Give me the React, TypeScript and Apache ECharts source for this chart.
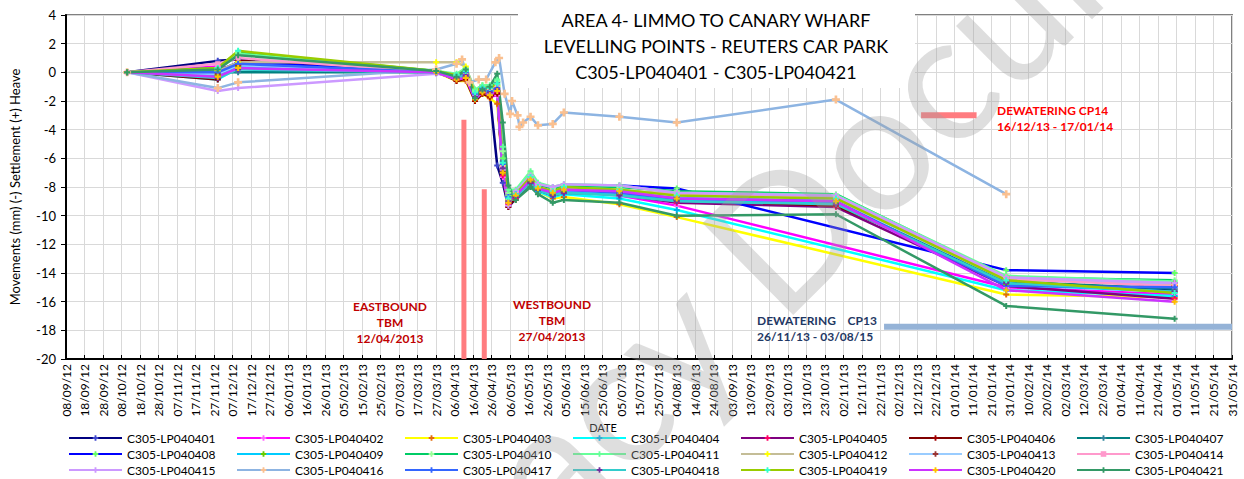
import React, { useEffect, useRef } from "react";
import * as echarts from "echarts";

// ---------- DATA ----------
const BASE_DATE = "2012-09-08";
const AXIS_END_DATE = "2014-05-31";
const TICK_DAYS = 10;

const yMin = -20;
const yMax = 4;
const yStep = 2;

const seriesNames = [
  "C305-LP040401", "C305-LP040402", "C305-LP040403", "C305-LP040404", "C305-LP040405", "C305-LP040406", "C305-LP040407",
  "C305-LP040408", "C305-LP040409", "C305-LP040410", "C305-LP040411", "C305-LP040412", "C305-LP040413", "C305-LP040414",
  "C305-LP040415", "C305-LP040416", "C305-LP040417", "C305-LP040418", "C305-LP040419", "C305-LP040420", "C305-LP040421",
];

const lineColors = [
  "#000080", "#FF00FF", "#FFFF00", "#00FFFF", "#800080", "#800000", "#008080",
  "#0000FF", "#00CCFF", "#00CC66", "#66FF99", "#C4BD97", "#99CCFF", "#FF99CC",
  "#CC99FF", "#8DB4E2", "#3366FF", "#33CCCC", "#99CC00", "#CC33FF", "#339966",
];

const markerColors = [
  "#3F48CC", "#FF66FF", "#E36C09", "#00B0F0", "#FF0066", "#A00000", "#31859C",
  "#66FF66", "#66CC00", "#99FF99", "#66FF99", "#FFFF00", "#993333", "#FF99CC",
  "#CC99FF", "#FAC090", "#3366FF", "#7030A0", "#33FFCC", "#FFC000", "#339966",
];

// survey dates shared by all points except LP040416
const dates = [
  "2012-10-11", "2012-11-29", "2012-12-10", "2013-03-27", "2013-04-07", "2013-04-12", "2013-04-17", "2013-04-21",
  "2013-04-25", "2013-04-29", "2013-05-02", "2013-05-05", "2013-05-09", "2013-05-17", "2013-05-21", "2013-05-29",
  "2013-06-04", "2013-07-04", "2013-08-04", "2013-10-29", "2014-01-29", "2014-04-30",
];

const lp401 = [0, 0.8, 0.9, 0.0, -0.4, -0.2, -1.6, -1.2, -1.5, -6.5, -7.7, -9.4, -8.8, -7.6, -8.1, -8.4, -8.2, -8.3, -8.9, -9.2, -14.6, -15.2];
const lp402 = [0, 0.4, 0.3, 0.0, -0.5, -0.5, -1.9, -1.4, -1.7, -1.6, -7.3, -9.2, -8.7, -7.6, -8.2, -8.5, -8.3, -8.6, -9.3, null, -15.0, -15.5];
const lp403 = [0, -0.2, 0.5, 0.0, -0.6, -0.6, -2.0, -1.5, -1.8, -2.2, -6.8, -8.9, -8.9, -7.8, -8.3, -8.8, -8.7, -9.2, -10.1, null, -15.5, -15.7];
const lp404 = [0, -0.5, 0.3, 0.0, -0.4, -0.3, -1.7, -1.3, -1.5, -1.3, -7.0, -9.0, -8.8, -7.8, -8.3, -8.7, -8.5, -8.8, -9.6, null, -15.2, -15.6];
const lp405 = [0, -0.3, 0.4, 0.0, -0.5, -0.4, -1.9, -1.4, -1.6, -1.4, -7.2, -9.2, -8.8, -7.7, -8.2, -8.6, -8.4, -8.5, -9.1, -9.4, -14.9, -15.8];
const lp406 = [0, -0.5, 0.8, 0.1, -0.6, -0.5, -2.0, -1.5, -1.7, -1.5, -7.0, -9.4, -8.7, -7.6, -8.1, -8.5, -8.3, -8.4, -8.9, -9.3, -14.3, -14.9];
const lp407 = [0, 0.0, 0.0, 0.0, -0.2, 0.1, -1.3, -1.0, -1.1, -0.7, -6.2, -8.8, -8.7, -7.6, -8.2, -8.5, -8.3, -8.5, -8.9, -9.1, -14.6, -15.1];
const lp408 = [0, 0.1, 0.7, 0.0, -0.3, 0.0, -1.4, -1.1, -1.2, -1.0, -6.0, -8.6, -8.4, -7.3, -7.9, -8.1, -7.9, -7.9, -8.1, null, -13.8, -14.0];
const lp409 = [0, -0.2, 0.4, 0.0, -0.3, 0.0, -1.5, -1.1, -1.2, -0.9, -6.5, -8.9, -8.6, -7.6, -8.2, -8.5, -8.3, -8.5, -8.9, -9.1, -14.8, -15.3];
const lp410 = [0, 0.3, 1.4, 0.1, -0.2, 0.2, -1.3, -0.9, -1.0, -0.6, -5.5, -8.4, -8.3, -7.0, -7.8, -8.1, -7.9, -8.0, -8.3, -8.5, -14.3, -14.5];
const lp411 = [0, 0.2, 1.3, 0.1, -0.1, 0.3, -1.2, -0.9, -0.9, -0.5, -5.2, -8.2, -8.2, -6.9, -7.7, -8.0, -7.8, -7.9, -8.4, -8.55, -14.2, -14.6];
const lp412 = [0, 0.1, 0.7, 0.7, 0.7, 0.4, -1.4, -1.0, -1.2, -1.0, -6.5, -8.9, -8.4, -7.4, -8.0, -8.3, -8.1, -8.2, -8.5, -8.7, -14.3, -14.8];
const lp413 = [0, -0.1, 0.5, 0.0, -0.5, -0.3, -1.8, -1.3, -1.5, -1.3, -6.9, -9.1, -8.6, -7.5, -8.1, -8.4, -8.2, -8.4, -8.7, -8.9, -14.5, -14.7];
const lp414 = [0, 0.6, 1.0, 0.0, -0.4, -0.1, -1.7, -1.2, -1.3, -0.9, -6.6, -9.0, -8.5, -7.4, -8.0, -8.3, -8.1, -8.3, -8.5, -8.8, -14.4, -14.9];
const lp415 = [0, -1.3, -1.1, -0.1, -0.3, -0.2, -1.6, -1.2, -1.5, -1.2, -6.8, -9.3, -8.3, -7.2, -7.8, -8.0, -7.8, -7.9, -8.4, -8.6, -14.3, -14.7];
const lp417 = [0, 0.0, 0.6, 0.0, -0.3, 0.0, -1.5, -1.1, -1.3, -1.1, -6.4, -8.7, -8.5, -7.5, -8.1, -8.4, -8.2, -8.4, -8.8, -9.0, -14.9, -15.0];
const lp418 = [0, -0.4, 0.2, 0.0, -0.4, -0.2, -1.7, -1.3, -1.4, -1.2, -6.7, -9.0, -8.7, -7.7, -8.2, -8.6, -8.4, -8.6, -9.0, -9.2, -14.7, -15.3];
const lp419 = [0, 0.3, 1.5, 0.1, -0.2, 0.1, -1.4, -1.0, -1.1, -0.8, -6.3, -8.8, -8.5, -7.3, -8.0, -8.3, -8.0, -8.2, -8.6, -8.8, -14.5, -15.4];
const lp420 = [0, -0.3, 0.3, 0.0, -0.5, -0.4, -1.9, -1.4, -1.6, -1.3, -7.0, -9.1, -8.6, -7.5, -8.1, -8.4, -8.2, -8.3, -8.8, -9.0, -15.2, -16.0];
const lp421 = [0, 0.2, 1.2, 0.1, -0.3, 0.2, -1.8, -1.2, -1.0, -0.1, -3.5, -7.9, -8.9, -8.0, -8.5, -9.1, -8.9, -9.1, -10.0, -9.9, -16.3, -17.2];

// LP040416 has its own survey dates
const dates416 = [
  "2012-10-11", "2012-11-29", "2012-12-10", "2013-03-27", "2013-04-07", "2013-04-10", "2013-04-14", "2013-04-19",
  "2013-04-23", "2013-04-28", "2013-04-30", "2013-05-03", "2013-05-06", "2013-05-07", "2013-05-10", "2013-05-11",
  "2013-05-13", "2013-05-17", "2013-05-21", "2013-05-29", "2013-06-04", "2013-07-04", "2013-08-04", "2013-10-29", "2014-01-29",
];
const lp416 = [0, -1.1, -0.7, 0.2, 0.6, 0.9, -0.7, -0.5, -0.5, 0.7, 1.0, -1.5, -2.9, -2.0, -3.0, -3.8, -3.5, -3.1, -3.7, -3.6, -2.8, -3.1, -3.5, -1.9, -8.5];

// event markers
const eastboundBarDate = "2013-04-11";
const eastboundBarRange = [-3.3, -20];
const westboundBarDate = "2013-04-22";
const westboundBarRange = [-8.15, -20];
const cp14Dates = ["2013-12-14", "2014-01-13"];
const cp14Level = -3.0;
const cp13Dates = ["2013-11-24", "2014-05-31"];
const cp13Level = -17.75;

const titleLines = ["AREA 4- LIMMO TO CANARY WHARF", "LEVELLING POINTS - REUTERS CAR PARK", "C305-LP040401 - C305-LP040421"];

// ---------- HELPERS ----------
const DAY = 86400000;
const baseMs = Date.parse(BASE_DATE + "T00:00:00Z");
const toDay = (d: string) => Math.round((Date.parse(d + "T00:00:00Z") - baseMs) / DAY);
const pad = (n: number) => (n < 10 ? "0" + n : "" + n);
const fmtDay = (v: number) => {
  const dt = new Date(baseMs + Math.round(v) * DAY);
  return pad(dt.getUTCDate()) + "/" + pad(dt.getUTCMonth() + 1) + "/" + pad(dt.getUTCFullYear() % 100);
};

const FONT = "Lato, 'Open Sans', 'DejaVu Sans', sans-serif";
const PLUS = "path://M2,0H4V2H6V4H4V6H2V4H0V2H2Z";

const allValues = [lp401, lp402, lp403, lp404, lp405, lp406, lp407, lp408, lp409, lp410, lp411, lp412, lp413, lp414, lp415, lp416, lp417, lp418, lp419, lp420, lp421];

export default function App() {
  const ref = useRef<HTMLDivElement>(null);
  useEffect(() => {
    if (!ref.current) return;
    const chart = echarts.init(ref.current, null, { renderer: "svg" });

    const dataSeries: any[] = seriesNames.map((name, i) => {
      const own = name === "C305-LP040416";
      const ds = own ? dates416 : dates;
      const vs = allValues[i];
      let symbol = PLUS;
      let size = 6;
      if (name === "C305-LP040414") { symbol = "rect"; size = 5; }
      if (own) { size = 8; }
      return {
        name,
        type: "line",
        data: ds.map((d, k) => [toDay(d), vs[k]]),
        connectNulls: true,
        symbol,
        symbolSize: size,
        showSymbol: true,
        lineStyle: { width: 2.5, color: lineColors[i] },
        itemStyle: { color: markerColors[i] },
        emphasis: { disabled: true },
        z: 3,
      };
    });

    const bar = (name: string, pts: number[][], color: string, width: number) => ({
      name,
      type: "line",
      data: pts,
      symbol: "none",
      lineStyle: { width, color, cap: "butt" },
      emphasis: { disabled: true },
      silent: true,
      z: 2,
    });

    const markerSeries = [
      bar("EB", [[toDay(eastboundBarDate), eastboundBarRange[0]], [toDay(eastboundBarDate), eastboundBarRange[1]]], "#FF7C80", 5),
      bar("WB", [[toDay(westboundBarDate), westboundBarRange[0]], [toDay(westboundBarDate), westboundBarRange[1]]], "#FF7C80", 5),
      bar("CP14", [[toDay(cp14Dates[0]), cp14Level], [toDay(cp14Dates[1]), cp14Level]], "#FF7C80", 6),
      bar("CP13", [[toDay(cp13Dates[0]), cp13Level], [toDay(cp13Dates[1]), cp13Level]], "#95B3D7", 6),
    ];

    const rowTops = [432, 448, 464];
    const legends = seriesNames.map((name, i) => ({
      data: [name],
      top: rowTops[Math.floor(i / 7)],
      left: 68 + (i % 7) * 168,
      padding: 0,
      orient: "horizontal",
      itemWidth: 53,
      itemHeight: 7,
      selectedMode: false,
      textStyle: { fontFamily: FONT, fontSize: 12, color: "#000" },
    }));

    const annot = (text: string, x: number, y: number, color: string, align: string) => ({
      type: "text",
      x, y, z: 10,
      style: { text, fill: color, font: "bold 12px " + FONT, textAlign: align, textVerticalAlign: "middle", lineHeight: 16 },
    });

    chart.setOption({
      animation: false,
      backgroundColor: "#fff",
      grid: { left: 64, right: 12, top: 15, bottom: 120, show: true, borderColor: "#808080", borderWidth: 2, containLabel: false },
      xAxis: {
        type: "value",
        min: 0,
        max: toDay(AXIS_END_DATE),
        interval: TICK_DAYS,
        axisLine: { show: true, onZero: false, lineStyle: { color: "#000", width: 2 } },
        axisTick: { show: true, inside: true, length: 4, lineStyle: { color: "#000" } },
        axisLabel: { rotate: 90, fontSize: 12, fontFamily: FONT, color: "#000", margin: 5, formatter: (v: number) => fmtDay(v), hideOverlap: false, showMinLabel: true, showMaxLabel: true },
        splitLine: { show: true, lineStyle: { color: "#D9D9D9", width: 1 } },
      },
      yAxis: {
        type: "value",
        min: yMin,
        max: yMax,
        interval: yStep,
        name: "Movements (mm) (-) Settlement (+) Heave",
        nameLocation: "middle",
        nameGap: 45,
        nameTextStyle: { fontFamily: FONT, fontSize: 13, color: "#000" },
        axisLine: { show: true, lineStyle: { color: "#000", width: 2 } },
        axisTick: { show: true, inside: false, length: 5, lineStyle: { color: "#000" } },
        axisLabel: { fontSize: 13, fontFamily: FONT, color: "#000", margin: 10 },
        splitLine: { show: true, lineStyle: { color: "#D9D9D9", width: 1 } },
      },
      legend: legends,
      graphic: [
        { type: "rect", shape: { x: 518, y: 0, width: 397, height: 88 }, style: { fill: "#fff" }, z: 1, silent: true },
        ...titleLines.map((t, i) => ({
          type: "text", x: 716, y: 20 + i * 26, z: 10,
          style: { text: t, fill: "#000", font: "18px " + FONT, textAlign: "center", textVerticalAlign: "middle" },
        })),
        annot("EASTBOUND\nTBM\n12/04/2013", 390, 322, "#C00000", "center"),
        annot("WESTBOUND\nTBM\n27/04/2013", 552, 320, "#C00000", "center"),
        annot("DEWATERING    CP13\n26/11/13 - 03/08/15", 757, 328, "#1F3864", "left"),
        annot("DEWATERING CP14\n16/12/13 - 17/01/14", 997, 118, "#FF0000", "left"),
        { type: "text", x: 603, y: 427, z: 10, style: { text: "DATE", fill: "#000", font: "11px " + FONT, textAlign: "center", textVerticalAlign: "middle" } },
        {
          type: "text", x: 820, y: 190, rotation: 0.78, z: 100, silent: true,
          style: { text: "Legacy Document", fill: "rgba(160,160,160,0.35)", font: "180px " + FONT, textAlign: "center", textVerticalAlign: "middle" },
        },
      ],
      series: [...markerSeries, ...dataSeries],
    });
    return () => chart.dispose();
  }, []);
  return <div ref={ref} style={{ position: "absolute", left: 0, top: 0, width: 1244, height: 479 }} />;
}
